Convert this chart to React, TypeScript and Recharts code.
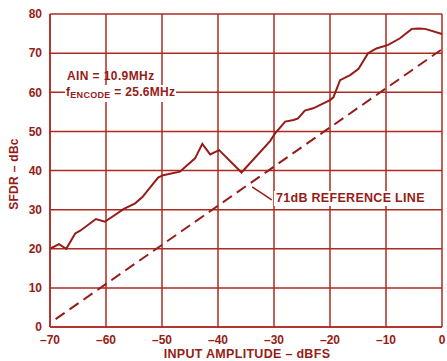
import React from 'react';
import {
    LineChart,
    Line,
    XAxis,
    YAxis,
    CartesianGrid,
    ReferenceLine,
} from 'recharts';

// measured SFDR curve
const SFDR_X = [-70, -68.4, -67.1, -65.5, -64.6, -61.8, -60.2, -56.8, -54.8, -53.5, -50.7, -49.8, -46.8, -44.1, -42.8, -41.4, -39.8, -35.8, -30.7, -29.8, -28.0, -26.5, -25.7, -24.5, -23.0, -20.0, -19.4, -18.2, -16.4, -14.9, -13.2, -11.7, -9.6, -7.5, -5.4, -4.2, -3.0, 0];
const SFDR_Y = [20, 21.2, 20, 23.9, 24.6, 27.6, 26.9, 30.2, 31.6, 33.2, 38.2, 38.8, 39.7, 43.1, 46.8, 44.1, 45.2, 39.5, 47.5, 49.5, 52.5, 52.9, 53.3, 55.3, 55.9, 58.0, 58.7, 63.1, 64.4, 66.0, 70.0, 71.2, 72.1, 73.8, 76.2, 76.3, 76.2, 74.9];

// 71dB reference line
const REF_X = [-69, 0];
const REF_Y = [2, 71];

const X_TICKS = [-70, -60, -50, -40, -30, -20, -10, 0];
const Y_TICKS = [0, 10, 20, 30, 40, 50, 60, 70, 80];

const sfdrData = SFDR_X.map((x, i) => ({ x, sfdr: SFDR_Y[i] }));
const refData = REF_X.map((x, i) => ({ x, ref: REF_Y[i] }));

const INK = '#961c17';
const GRID = '#ad2a22';
const FONT = '"Liberation Sans", Arial, sans-serif';

const tickStyle = { fontSize: 12, fill: INK, fontWeight: 700, fontFamily: FONT };
const note = { position: 'absolute' as const, fontWeight: 700, color: INK, whiteSpace: 'nowrap' as const };

const App: React.FC = () => {
    return (
        <div style={{ position: 'absolute', left: 0, top: 0, width: 447, height: 361, background: '#fff', fontFamily: FONT }}>
            <LineChart width={447} height={361} margin={{ top: 14, right: 5, bottom: 0, left: 0 }}>
                <CartesianGrid stroke={GRID} strokeWidth={1.5} horizontalValues={Y_TICKS} verticalValues={X_TICKS} />
                <XAxis
                    type="number"
                    dataKey="x"
                    domain={[-70, 0]}
                    ticks={X_TICKS}
                    height={34}
                    axisLine={{ stroke: GRID, strokeWidth: 1.5 }}
                    tickLine={false}
                    tickSize={3}
                    tickMargin={5}
                    tick={tickStyle}
                    tickFormatter={(v) => String(v).replace('-', '–')}
                />
                <YAxis
                    type="number"
                    domain={[0, 80]}
                    ticks={Y_TICKS}
                    width={50}
                    axisLine={{ stroke: GRID, strokeWidth: 1.5 }}
                    tickLine={false}
                    tickSize={5}
                    tickMargin={3}
                    tick={tickStyle}
                />
                <ReferenceLine
                    segment={[{ x: -33.9, y: 35.8 }, { x: -30.4, y: 32.5 }]}
                    stroke={INK}
                    strokeWidth={1.5}
                />
                <Line data={refData} dataKey="ref" type="linear" stroke={INK} strokeWidth={2} strokeDasharray="11 6" dot={false} isAnimationActive={false} />
                <Line data={sfdrData} dataKey="sfdr" type="linear" stroke={INK} strokeWidth={2} dot={false} isAnimationActive={false} />
            </LineChart>

            <div style={{ ...note, left: 67, top: 69, fontSize: 12, letterSpacing: 0.4, lineHeight: '14px' }}>
                AIN = 10.9MHz
            </div>
            <div style={{ ...note, left: 65, top: 85, fontSize: 12, letterSpacing: 0.3, background: '#fff', padding: '0 1px', lineHeight: '14px' }}>
                f<sub style={{ fontSize: 9, verticalAlign: -2 }}>ENCODE</sub> = 25.6MHz
            </div>
            <div style={{ ...note, left: 274, top: 191, fontSize: 12.5, letterSpacing: 0.3, background: '#fff', padding: '0 2px', lineHeight: '15px' }}>
                71dB REFERENCE LINE
            </div>
            <div style={{ ...note, left: 0, top: 347, width: 494, textAlign: 'center', fontSize: 12.5, letterSpacing: 0.3, lineHeight: '14px' }}>
                INPUT AMPLITUDE – dBFS
            </div>
            <div style={{ ...note, left: 14, top: 174, fontSize: 12, letterSpacing: 0.3, transform: 'translate(-50%, -50%) rotate(-90deg)', lineHeight: '14px' }}>
                SFDR – dBc
            </div>
        </div>
    );
};

export default App;
